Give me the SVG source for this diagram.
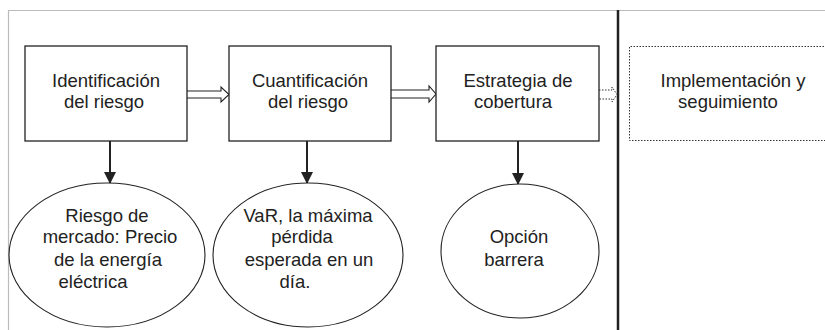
<svg xmlns="http://www.w3.org/2000/svg" width="825" height="330" viewBox="0 0 825 330">
<style>
.box{fill:#fff;stroke:#222;stroke-width:1.3}
.ell{fill:#fff;stroke:#222;stroke-width:1.1}
.dot{fill:none;stroke:#333;stroke-width:1;stroke-dasharray:1.5 1.5}
.t{font-family:"Liberation Sans",Arial,sans-serif;font-size:18.5px;fill:#222;text-anchor:middle}
.harrow{fill:#fff;stroke:#222;stroke-width:1.1}
.darrow{fill:none;stroke:#333;stroke-width:1;stroke-dasharray:1.5 1.5}
.vline{stroke:#222;stroke-width:2}
</style>
<defs>
<marker id="ah" markerWidth="12" markerHeight="14" refX="11" refY="7" orient="auto" markerUnits="userSpaceOnUse" viewBox="0 0 12 14">
<path d="M0,1 L12,7 L0,13 Z" fill="#222"/>
</marker>
</defs>
<rect width="825" height="330" fill="#fff"/>
<g id="frame">
<line x1="8.5" y1="10.5" x2="825" y2="10.5" stroke="#bbb" stroke-width="1.2"/>
<line x1="8.5" y1="10" x2="8.5" y2="330" stroke="#bbb" stroke-width="1.2"/>
<line x1="618" y1="10" x2="618" y2="330" stroke="#222" stroke-width="2.5"/>
</g>
<g id="connectors">
<path class="harrow" d="M187,91 H221 V87 L229,94.5 L221,102 V98 H187"/>
<path class="harrow" d="M391,90 H429 V86 L436,94 L429,102 V98 H391"/>
<path class="darrow" d="M599,90 H612 V87 L617,94.5 L612,102 V99 H599"/>
<line class="vline" x1="110" y1="141" x2="110" y2="183" marker-end="url(#ah)"/>
<line class="vline" x1="307" y1="141" x2="307" y2="183" marker-end="url(#ah)"/>
<line class="vline" x1="518" y1="141" x2="518" y2="184" marker-end="url(#ah)"/>
</g>
<g id="n1">
<rect class="box" x="25" y="46" width="162" height="95"/>
<text class="t" x="106" y="87">Identificación</text>
<text class="t" x="104" y="108">del riesgo</text>
</g>
<g id="n2">
<rect class="box" x="229" y="46" width="162" height="95"/>
<text class="t" x="310" y="87">Cuantificación</text>
<text class="t" x="308" y="108">del riesgo</text>
</g>
<g id="n3">
<rect class="box" x="436" y="46" width="163" height="95"/>
<text class="t" x="518" y="87">Estrategia de</text>
<text class="t" x="513" y="108">cobertura</text>
</g>
<g id="n4">
<path class="dot" d="M830,46.5 H629.5 V140.5 H830"/>
<text class="t" x="733" y="87">Implementación y</text>
<text class="t" x="728" y="108">seguimiento</text>
</g>
<g id="e1">
<ellipse class="ell" cx="107" cy="255" rx="98" ry="72"/>
<text class="t" x="107" y="222">Riesgo de</text>
<text class="t" x="110" y="243">mercado: Precio</text>
<text class="t" x="108" y="266">de la energía</text>
<text class="t" x="93" y="288">eléctrica</text>
</g>
<g id="e2">
<ellipse class="ell" cx="308" cy="255" rx="95" ry="72"/>
<text class="t" x="308" y="222">VaR, la máxima</text>
<text class="t" x="302" y="243">pérdida</text>
<text class="t" x="309" y="266">esperada en un</text>
<text class="t" x="295" y="288">día.</text>
</g>
<g id="e3">
<ellipse class="ell" cx="520" cy="251" rx="79" ry="67"/>
<text class="t" x="519" y="243">Opción</text>
<text class="t" x="514" y="266">barrera</text>
</g>
</svg>
